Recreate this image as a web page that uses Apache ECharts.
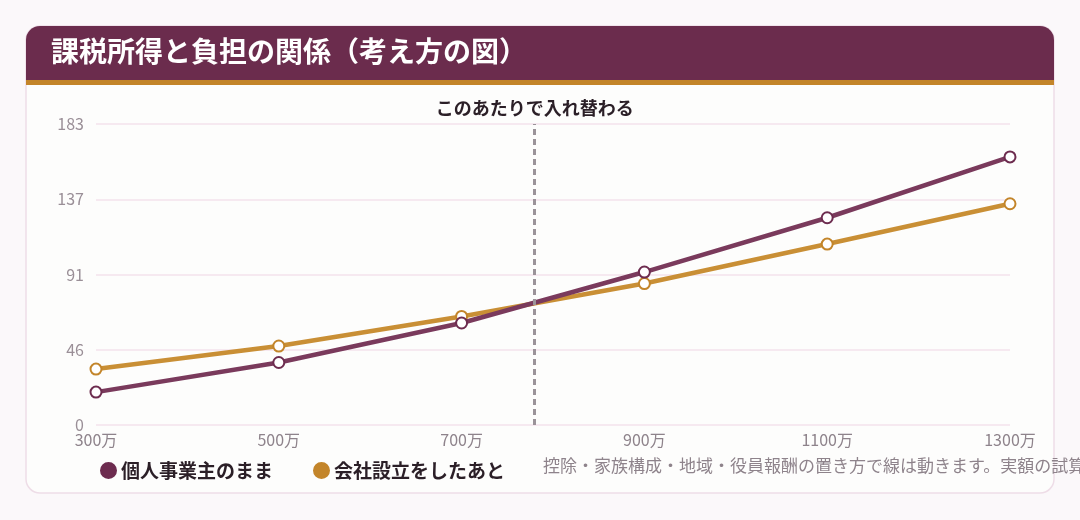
<!DOCTYPE html>
<html>
<head>
<meta charset="utf-8">
<script src="https://cdn.jsdelivr.net/npm/echarts@6/dist/echarts.min.js"></script>
<style>
  html, body { margin: 0; padding: 0; background: #fbf8fa; }
  #chart { width: 1080px; height: 520px; }
</style>
</head>
<body>
<div id="chart"></div>
<script>
// 課税所得（万円）
const incomes = [300, 500, 700, 900, 1100, 1300];
// 個人事業主のまま
const soleValues = [20, 38, 62, 93, 126, 163];
// 会社設立をしたあと
const corpValues = [34, 48, 66, 86, 110, 134.5];
const yTickLabels = ['0', '46', '91', '137', '183'];
const crossPoint = 780;

const FONT = '"Noto Sans CJK JP", "Noto Sans", sans-serif';
const yMax = 183;
const yStep = yMax / 4;

const chart = echarts.init(document.getElementById('chart'));

function pairs(vals) {
  return incomes.map((x, i) => [x, vals[i]]);
}

const option = {
  backgroundColor: '#fbf8fa',
  textStyle: { fontFamily: FONT },
  graphic: [
    // カード本体
    {
      type: 'rect',
      shape: { x: 26, y: 26, width: 1028, height: 467, r: 14 },
      style: { fill: '#fdfdfc', stroke: '#eedde7', lineWidth: 1.5 },
      z: -10
    },
    // ヘッダー
    {
      type: 'rect',
      shape: { x: 26, y: 26, width: 1028, height: 54, r: [14, 14, 0, 0] },
      style: { fill: '#6b2c4d' },
      z: -9
    },
    {
      type: 'rect',
      shape: { x: 26, y: 80, width: 1028, height: 5 },
      style: { fill: '#c3852a' },
      z: -9
    },
    {
      type: 'text',
      left: 51,
      top: 37,
      style: {
        text: '課税所得と負担の関係（考え方の図）',
        fill: '#ffffff',
        font: 'bold 28px ' + FONT
      },
      z: 10
    },
    // 注記
    {
      type: 'text',
      left: 543,
      top: 457,
      style: {
        text: '控除・家族構成・地域・役員報酬の置き方で線は動きます。実額の試算は専門家にご相談ください。',
        fill: '#8e838b',
        font: '17px ' + FONT
      },
      z: 10
    }
  ],
  grid: { left: 96, right: 70, top: 124, bottom: 95 },
  legend: {
    left: 95,
    top: 456,
    icon: 'circle',
    itemWidth: 15,
    itemHeight: 15,
    itemGap: 40,
    textStyle: { fontSize: 19, fontWeight: 'bold', color: '#2b1f27', fontFamily: FONT },
    data: ['個人事業主のまま', '会社設立をしたあと']
  },
  xAxis: {
    type: 'value',
    min: 300,
    max: 1300,
    interval: 200,
    axisLine: { show: false },
    axisTick: { show: false },
    splitLine: { show: false },
    axisLabel: {
      color: '#8e838b',
      fontSize: 16,
      margin: 7,
      formatter: v => v + '万'
    }
  },
  yAxis: {
    type: 'value',
    min: 0,
    max: yMax,
    interval: yStep,
    axisLine: { show: false },
    axisTick: { show: false },
    splitLine: { lineStyle: { color: '#f3e2ec', width: 1.5 } },
    axisLabel: {
      color: '#9a8f97',
      fontSize: 16,
      margin: 12,
      formatter: v => yTickLabels[Math.round(v / yStep)]
    }
  },
  series: [
    {
      name: '個人事業主のまま',
      type: 'line',
      data: pairs(soleValues),
      color: '#6d2c4f',
      symbol: 'emptyCircle',
      symbolSize: 11,
      lineStyle: { width: 4.5, color: '#7a3a5c' },
      itemStyle: { color: '#6d2c4f', borderWidth: 2.5, borderColor: '#6d2c4f' },
      z: 3,
      markLine: {
        silent: true,
        symbol: 'none',
        lineStyle: { type: [6, 4], color: '#9b9399', width: 3 },
        label: {
          position: 'end',
          distance: 7,
          formatter: 'このあたりで入れ替わる',
          color: '#2b1f27',
          fontSize: 18,
          fontWeight: 'bold',
          fontFamily: FONT
        },
        data: [{ xAxis: crossPoint }]
      }
    },
    {
      name: '会社設立をしたあと',
      type: 'line',
      data: pairs(corpValues),
      color: '#c3852a',
      symbol: 'emptyCircle',
      symbolSize: 11,
      lineStyle: { width: 4.5, color: '#c98f35' },
      itemStyle: { color: '#c3852a', borderWidth: 2.5, borderColor: '#c3852a' },
      z: 2
    }
  ]
};

chart.setOption(option);
</script>
</body>
</html>
